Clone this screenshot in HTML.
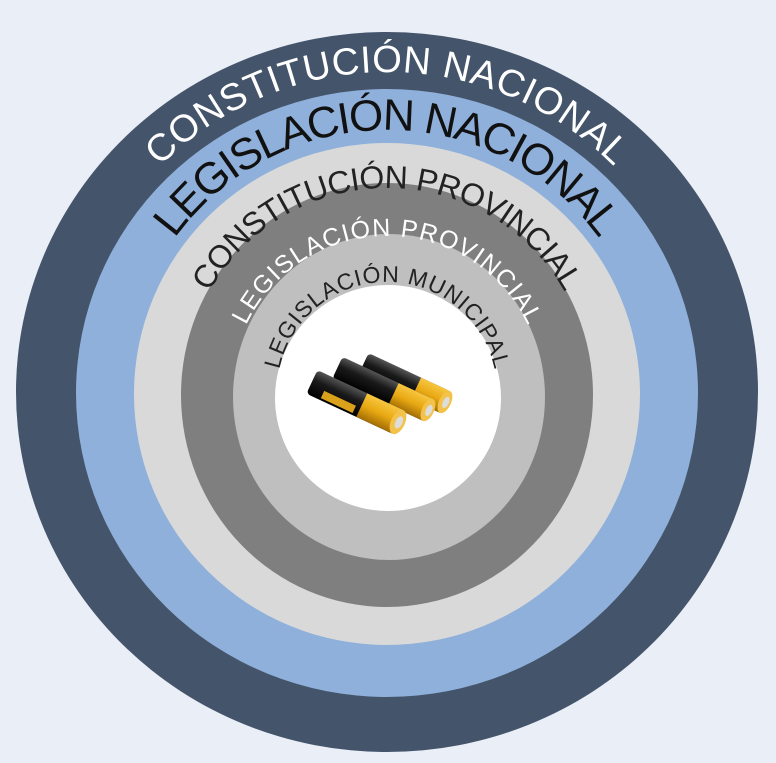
<!DOCTYPE html>
<html><head><meta charset="utf-8"><style>
html,body{margin:0;padding:0;background:#e9eef7;}
svg{display:block;}
text{font-family:"Liberation Sans",sans-serif;}
</style></head><body>
<svg width="776" height="763" viewBox="0 0 776 763">
<rect width="776" height="763" fill="#e9eef7"/>
<defs>
<path id="p1" d="M67,392 A320,320 0 0 1 707,392"/>
<path id="p2" d="M125,392 A262,262 0 0 1 649,392"/>
<path id="p3" d="M183,392 A204,204 0 0 1 591,392"/>
<path id="p4" d="M231,392 A156,156 0 0 1 543,392"/>
<path id="p5" d="M277,392 A110,110 0 0 1 497,392"/>
<linearGradient id="gold" x1="0" y1="0" x2="0" y2="1"><stop offset="0" stop-color="#f7c640"/><stop offset="0.5" stop-color="#e8a812"/><stop offset="1" stop-color="#a26d05"/></linearGradient>
<linearGradient id="blk" x1="0" y1="0" x2="0" y2="1"><stop offset="0" stop-color="#555"/><stop offset="0.4" stop-color="#1a1a1a"/><stop offset="1" stop-color="#000"/></linearGradient>
</defs>
<ellipse cx="387" cy="392" rx="371" ry="360" fill="#44546a"/>
<ellipse cx="387" cy="393" rx="311" ry="304" fill="#8fb0da"/>
<ellipse cx="387" cy="394" rx="253" ry="251" fill="#d9d9d9"/>
<ellipse cx="387" cy="395" rx="206" ry="212" fill="#7f7f7f"/>
<ellipse cx="389" cy="397" rx="156" ry="163" fill="#bfbfbf"/>
<ellipse cx="388" cy="398" rx="113" ry="113" fill="#ffffff"/>
<text font-size="38" fill="#ffffff"><textPath href="#p1" startOffset="50%" text-anchor="middle" textLength="505" lengthAdjust="spacing">CONSTITUCIÓN NACIONAL</textPath></text>
<text font-size="44" fill="#111111"><textPath href="#p2" startOffset="50%" text-anchor="middle" textLength="495" lengthAdjust="spacing">LEGISLACIÓN NACIONAL</textPath></text>
<text font-size="32" fill="#222222"><textPath href="#p3" startOffset="50%" text-anchor="middle" textLength="432" lengthAdjust="spacing">CONSTITUCIÓN PROVINCIAL</textPath></text>
<text font-size="25" fill="#ffffff"><textPath href="#p4" startOffset="50%" text-anchor="middle" textLength="352" lengthAdjust="spacing">LEGISLACIÓN PROVINCIAL</textPath></text>
<text font-size="23" fill="#222222"><textPath href="#p5" startOffset="50%" text-anchor="middle" textLength="300" lengthAdjust="spacing">LEGISLACIÓN MUNICIPAL</textPath></text>
<g>
<g transform="translate(445,402) rotate(25)">
<rect x="-90" y="-12" width="90" height="24" rx="4" fill="url(#blk)"/>
<rect x="-32" y="-12" width="32" height="24" fill="url(#gold)"/>
<ellipse cx="0" cy="0" rx="6" ry="12" fill="#f2c24a"/><ellipse cx="1" cy="0" rx="3" ry="6" fill="#ddd"/>
</g>
<g transform="translate(428,410) rotate(25)">
<rect x="-100" y="-12" width="100" height="24" rx="4" fill="url(#blk)"/>
<rect x="-38" y="-12" width="38" height="24" fill="url(#gold)"/>
<ellipse cx="0" cy="0" rx="6" ry="12" fill="#f2c24a"/><ellipse cx="1" cy="0" rx="3" ry="6" fill="#ddd"/>
</g>
<g transform="translate(398,422) rotate(25)">
<rect x="-95" y="-13" width="95" height="26" rx="4" fill="url(#blk)"/>
<rect x="-40" y="-13" width="40" height="26" fill="url(#gold)"/>
<rect x="-80" y="3" width="35" height="8" fill="#d9a21a"/>
<ellipse cx="0" cy="0" rx="7" ry="13" fill="#f2c24a"/><ellipse cx="1" cy="0" rx="3.5" ry="6.5" fill="#ddd"/>
</g>
</g>
</svg>
</body></html>
